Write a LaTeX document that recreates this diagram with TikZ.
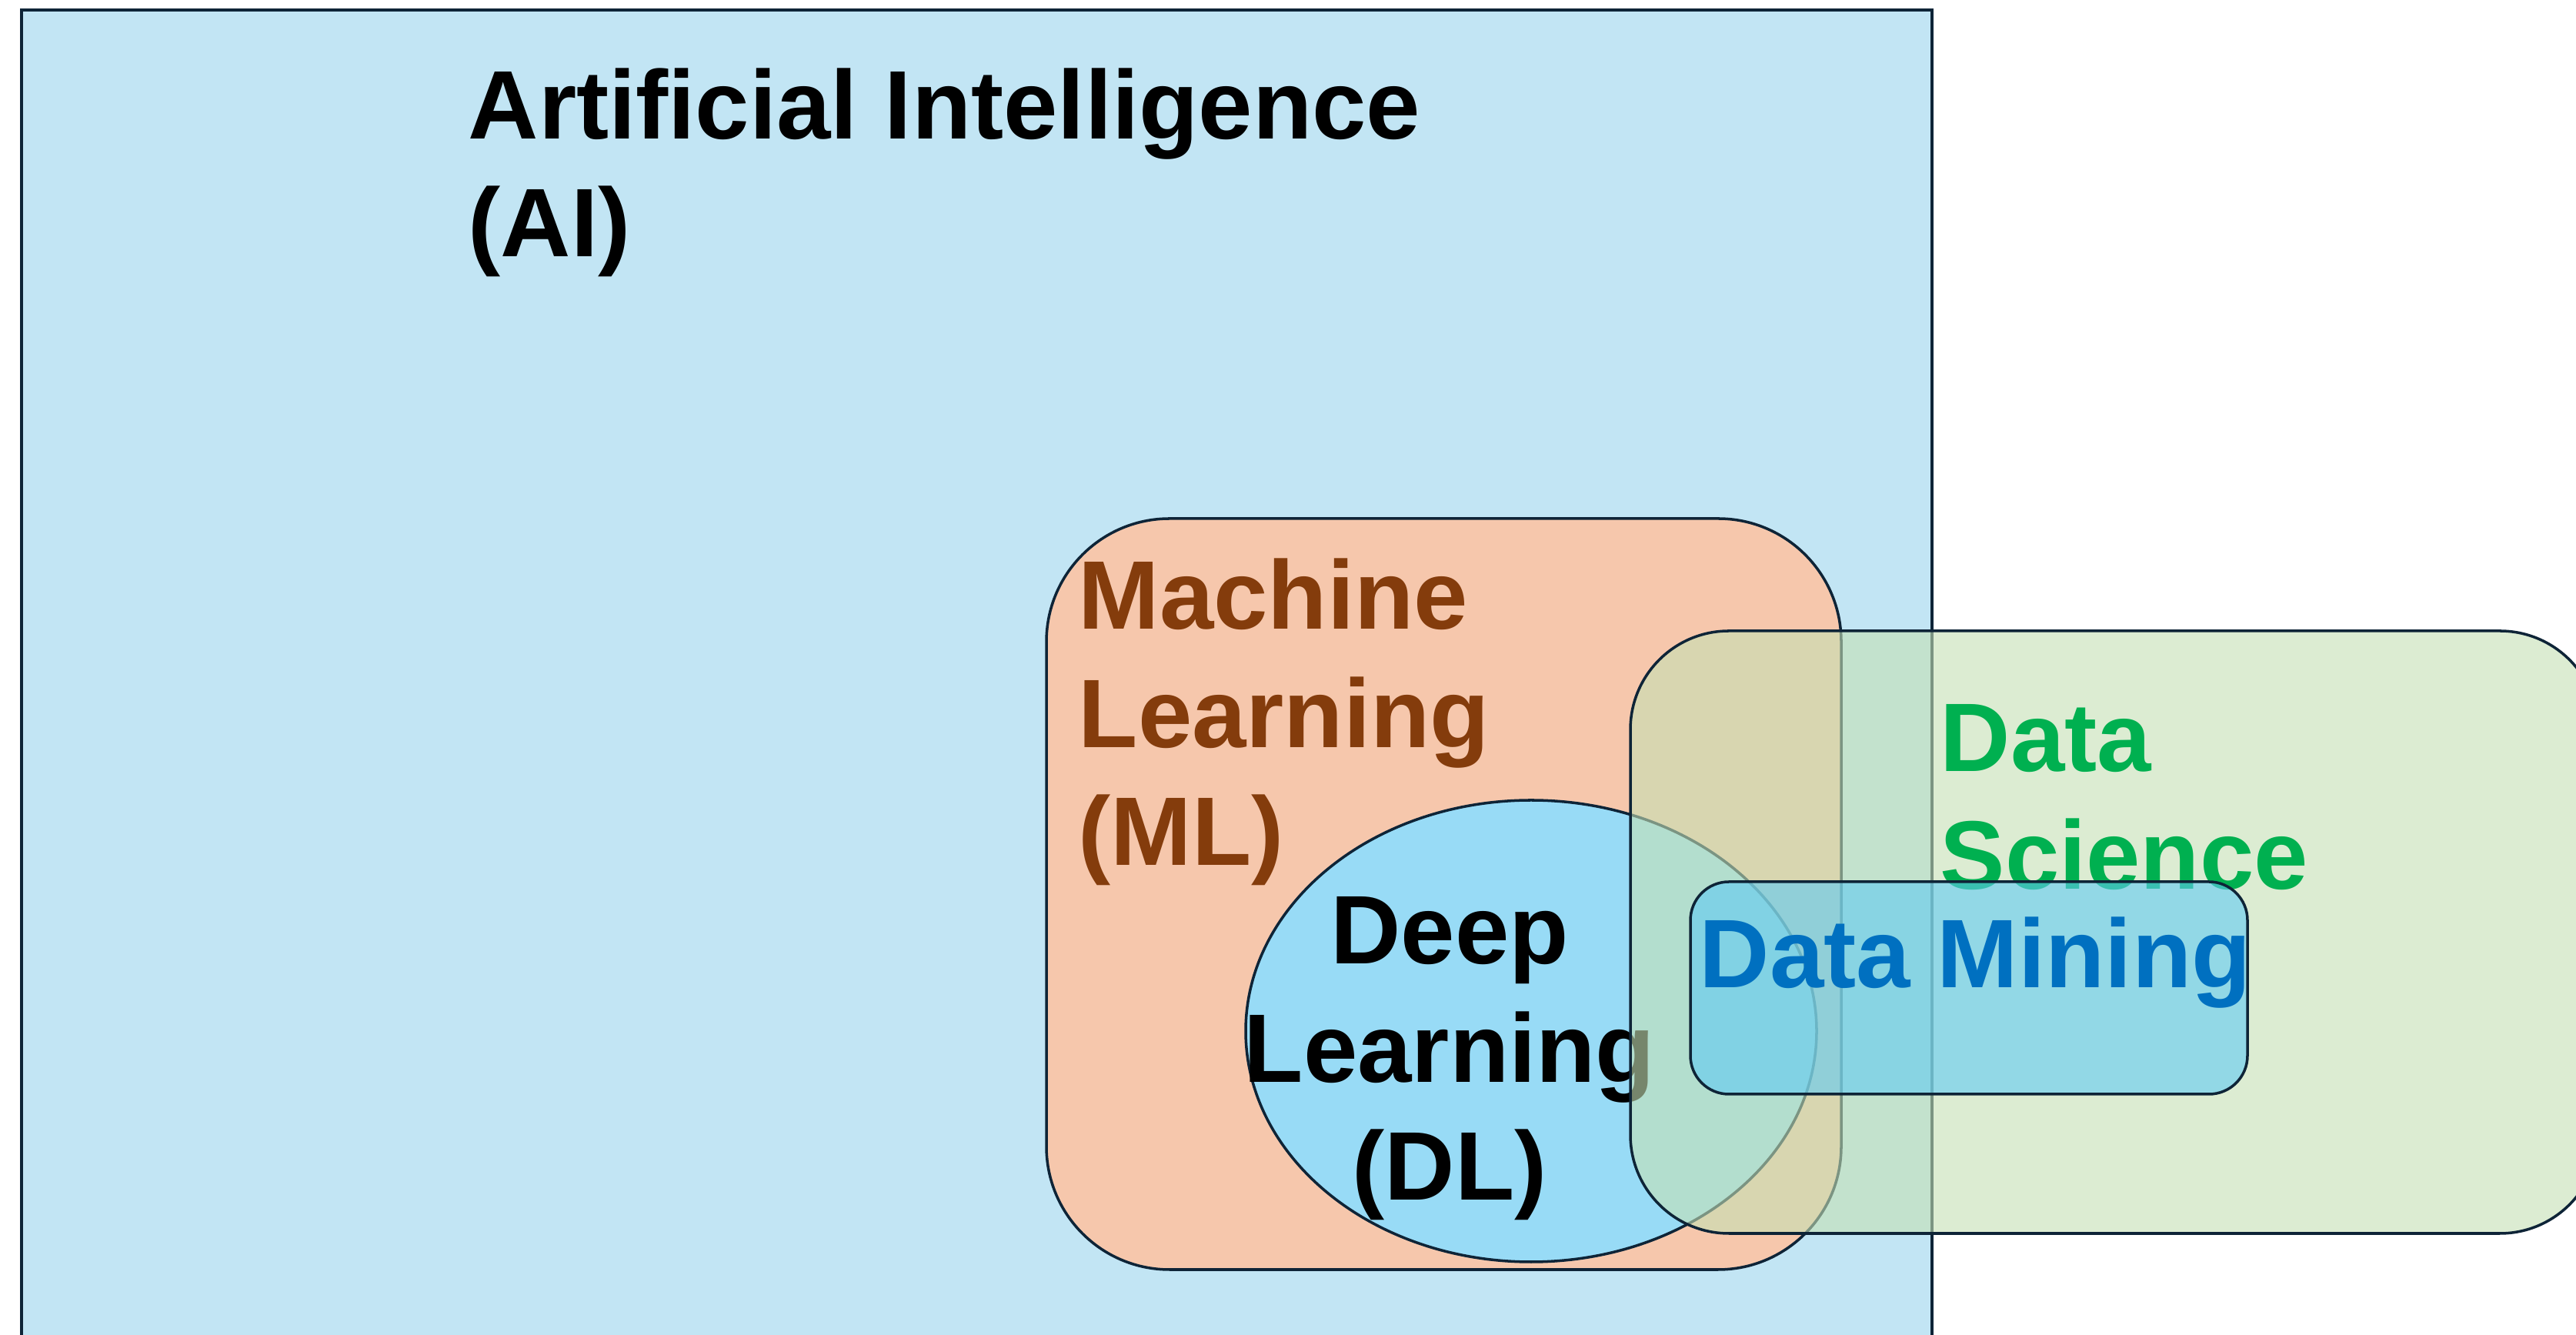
\documentclass[tikz,border=0pt]{standalone}
\usepackage{fontspec}
\setmainfont{Liberation Sans}
\usetikzlibrary{shapes.geometric,positioning}
\definecolor{LineNavy}{HTML}{0E2437}
\definecolor{AIFill}{HTML}{C2E5F4}
\definecolor{MLFill}{HTML}{F6C7AC}
\definecolor{MLText}{HTML}{843C0C}
\definecolor{DLFill}{HTML}{98DBF6}
\definecolor{DSFill}{HTML}{C5E0B4}
\definecolor{DSText}{HTML}{00B050}
\definecolor{DMFill}{HTML}{61CBF3}
\definecolor{DMText}{HTML}{0070C0}
\tikzset{
    % Base region style
    region/.style={
        draw=LineNavy,
        line width=1pt,
        inner sep=0pt,
        outer sep=0pt
    },
    % AI area
    aibox/.style={
        region,
        rectangle,
        fill=AIFill
    },
    % ML area
    mlbox/.style={
        region,
        rectangle,
        rounded corners=1.6cm,
        fill=MLFill
    },
    % DL area
    dlbox/.style={
        region,
        ellipse,
        fill=DLFill
    },
    % Data science area
    dsbox/.style={
        region,
        rectangle,
        rounded corners=1.28cm,
        fill=DSFill,
        fill opacity=0.6
    },
    % Data mining area
    dmbox/.style={
        region,
        rectangle,
        rounded corners=0.5cm,
        fill=DMFill,
        fill opacity=0.6
    },
    % Area titles
    areatext/.style={
        inner sep=0pt,
        align=left,
        font=\bfseries\fontsize{36}{43.8}\selectfont
    }
}
\begin{document}
\begin{tikzpicture}
        \useasboundingbox (0,0) rectangle (33.48,17.35);
        \clip (0,0) rectangle (33.48,17.35);

        % Artificial intelligence
        \node[aibox, minimum width=24.83cm, minimum height=18.22cm] (ai) at (12.695,8.11) {};
        \node[areatext, anchor=base west] (aitext) at (6.08,14.01) {Artificial Intelligence\\(AI)};

        % Machine learning
        \node[mlbox, minimum width=10.33cm, minimum height=9.76cm] (ml) at (18.765,5.73) {};
        \node[areatext, anchor=base west, text=MLText] (mltext) at (14.01,6.10) {Machine\\Learning\\(ML)};

        % Deep learning
        \node[dlbox, minimum width=7.42cm, minimum height=6cm] (dl) at (19.9,3.95) {};
        \node[areatext, align=center, anchor=base] (dltext) at (18.84,1.75) {Deep\\Learning\\(DL)};

        % Data science
        \node[dsbox, minimum width=12.58cm, minimum height=7.83cm] (ds) at (27.48,5.235) {};
        \node[areatext, anchor=base west, text=DSText] (dstext) at (25.21,5.79) {Data\\Science};

        % Data mining
        \node[dmbox, minimum width=7.24cm, minimum height=2.76cm] (dm) at (25.59,4.51) {};
        \node[areatext, anchor=base west, text=DMText] (dmtext) at (22.08,4.51) {Data Mining};
\end{tikzpicture}
\end{document}
